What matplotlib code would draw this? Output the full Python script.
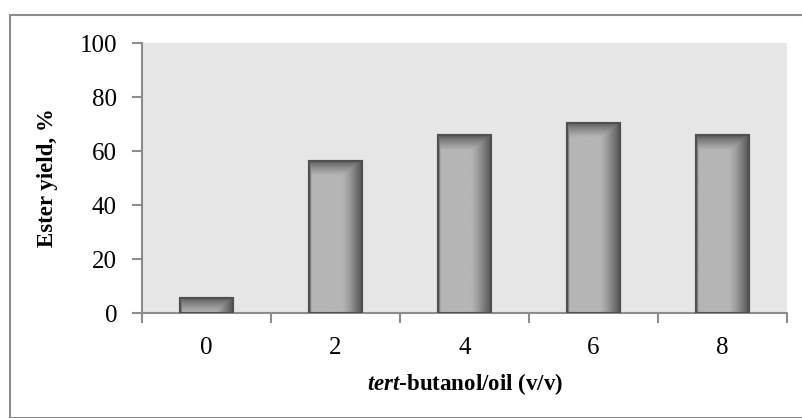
import numpy as np
import matplotlib.pyplot as plt
from matplotlib.patches import Rectangle
from matplotlib.ticker import FixedLocator

ratios = ["0", "2", "4", "6", "8"]
ester_yield = [5.6, 56.3, 65.9, 70.4, 65.9]
y_ticks = [0, 20, 40, 60, 80, 100]

plt.rcParams['font.family'] = ['Liberation Serif', 'DejaVu Serif']
plt.rcParams['mathtext.fontset'] = 'custom'
plt.rcParams['mathtext.it'] = 'Liberation Serif:italic:bold'
plt.rcParams['mathtext.rm'] = 'Liberation Serif:bold'
plt.rcParams['mathtext.bf'] = 'Liberation Serif:bold'

W, H = 803, 418
fig = plt.figure(figsize=(W / 100, H / 100), dpi=100)
# outer frame around the chart
fig.patches.append(Rectangle((10 / W, 0), 1.0, (H - 15) / H, transform=fig.transFigure,
                             fill=False, edgecolor='#8c8c8c', linewidth=1.5))

ax = fig.add_axes([142 / W, 105 / H, 645 / W, 270 / H])
ax.set_facecolor('#e6e6e6')

x = np.arange(len(ratios))
bars = ax.bar(x, ester_yield, width=0.41, color='#b4b4b4', edgecolor='#505050',
              linewidth=1.5, zorder=3)

# shaded fill for each bar: darker right side, thin dark left edge, dark top band
nx, ny = 120, 400
u = np.linspace(0, 1, nx)
light, dark = 0.71, 0.33
hprof = np.full(nx, light)
hprof[u < 0.05] = dark + (light - dark) * (u[u < 0.05] / 0.05)
r = u > 0.62
hprof[r] = light - (light - dark) * ((u[r] - 0.62) / 0.38) ** 1.3
for b in bars:
    x0, y0, w, h = b.get_x(), b.get_y(), b.get_width(), b.get_height()
    yy = np.linspace(0, h, ny)  # from bottom to top
    dist_top = h - yy
    vprof = np.where(dist_top < 5.5, dark + (light - dark) * (dist_top / 5.5) ** 0.8, light)
    img = np.minimum(hprof[None, :], vprof[:, None])
    im = ax.imshow(img, extent=[x0, x0 + w, y0, y0 + h], origin='lower', cmap='gray',
                   vmin=0, vmax=1, aspect='auto', zorder=3.5, interpolation='bilinear')
    im.set_clip_path(b)
    ax.add_patch(Rectangle((x0, y0), w, h, fill=False, edgecolor='#505050',
                           linewidth=1.5, zorder=4))

ax.set_xlim(-0.5, len(ratios) - 0.5)
ax.set_ylim(0, 100)
ax.set_yticks(y_ticks)
ax.set_yticklabels([str(t) for t in y_ticks], fontsize=18)
ax.set_xticks(x)
ax.set_xticklabels(ratios, fontsize=18)
ax.xaxis.set_minor_locator(FixedLocator(np.arange(-0.5, len(ratios), 1.0)))
ax.tick_params(axis='x', which='major', length=0, pad=17)
ax.tick_params(axis='x', which='minor', length=7, width=1.5, color='#8c8c8c')
ax.tick_params(axis='y', length=7, width=1.5, color='#8c8c8c', pad=11)

for s in ['top', 'right']:
    ax.spines[s].set_visible(False)
for s in ['left', 'bottom']:
    ax.spines[s].set_color('#8c8c8c')
    ax.spines[s].set_linewidth(1.5)

ax.set_ylabel('Ester yield, %', fontsize=16.5, fontweight='bold')
ax.yaxis.set_label_coords(-(142 - 47) / 645, 0.5)
ax.set_xlabel(r'$\mathit{tert}$-butanol/oil (v/v)', fontsize=16.5, fontweight='bold')
ax.xaxis.set_label_coords(0.5, -(384 - 313) / 270)
ax.xaxis.label.set_verticalalignment('center')
ax.yaxis.label.set_verticalalignment('center')

fig.savefig('out.png', dpi=100)
